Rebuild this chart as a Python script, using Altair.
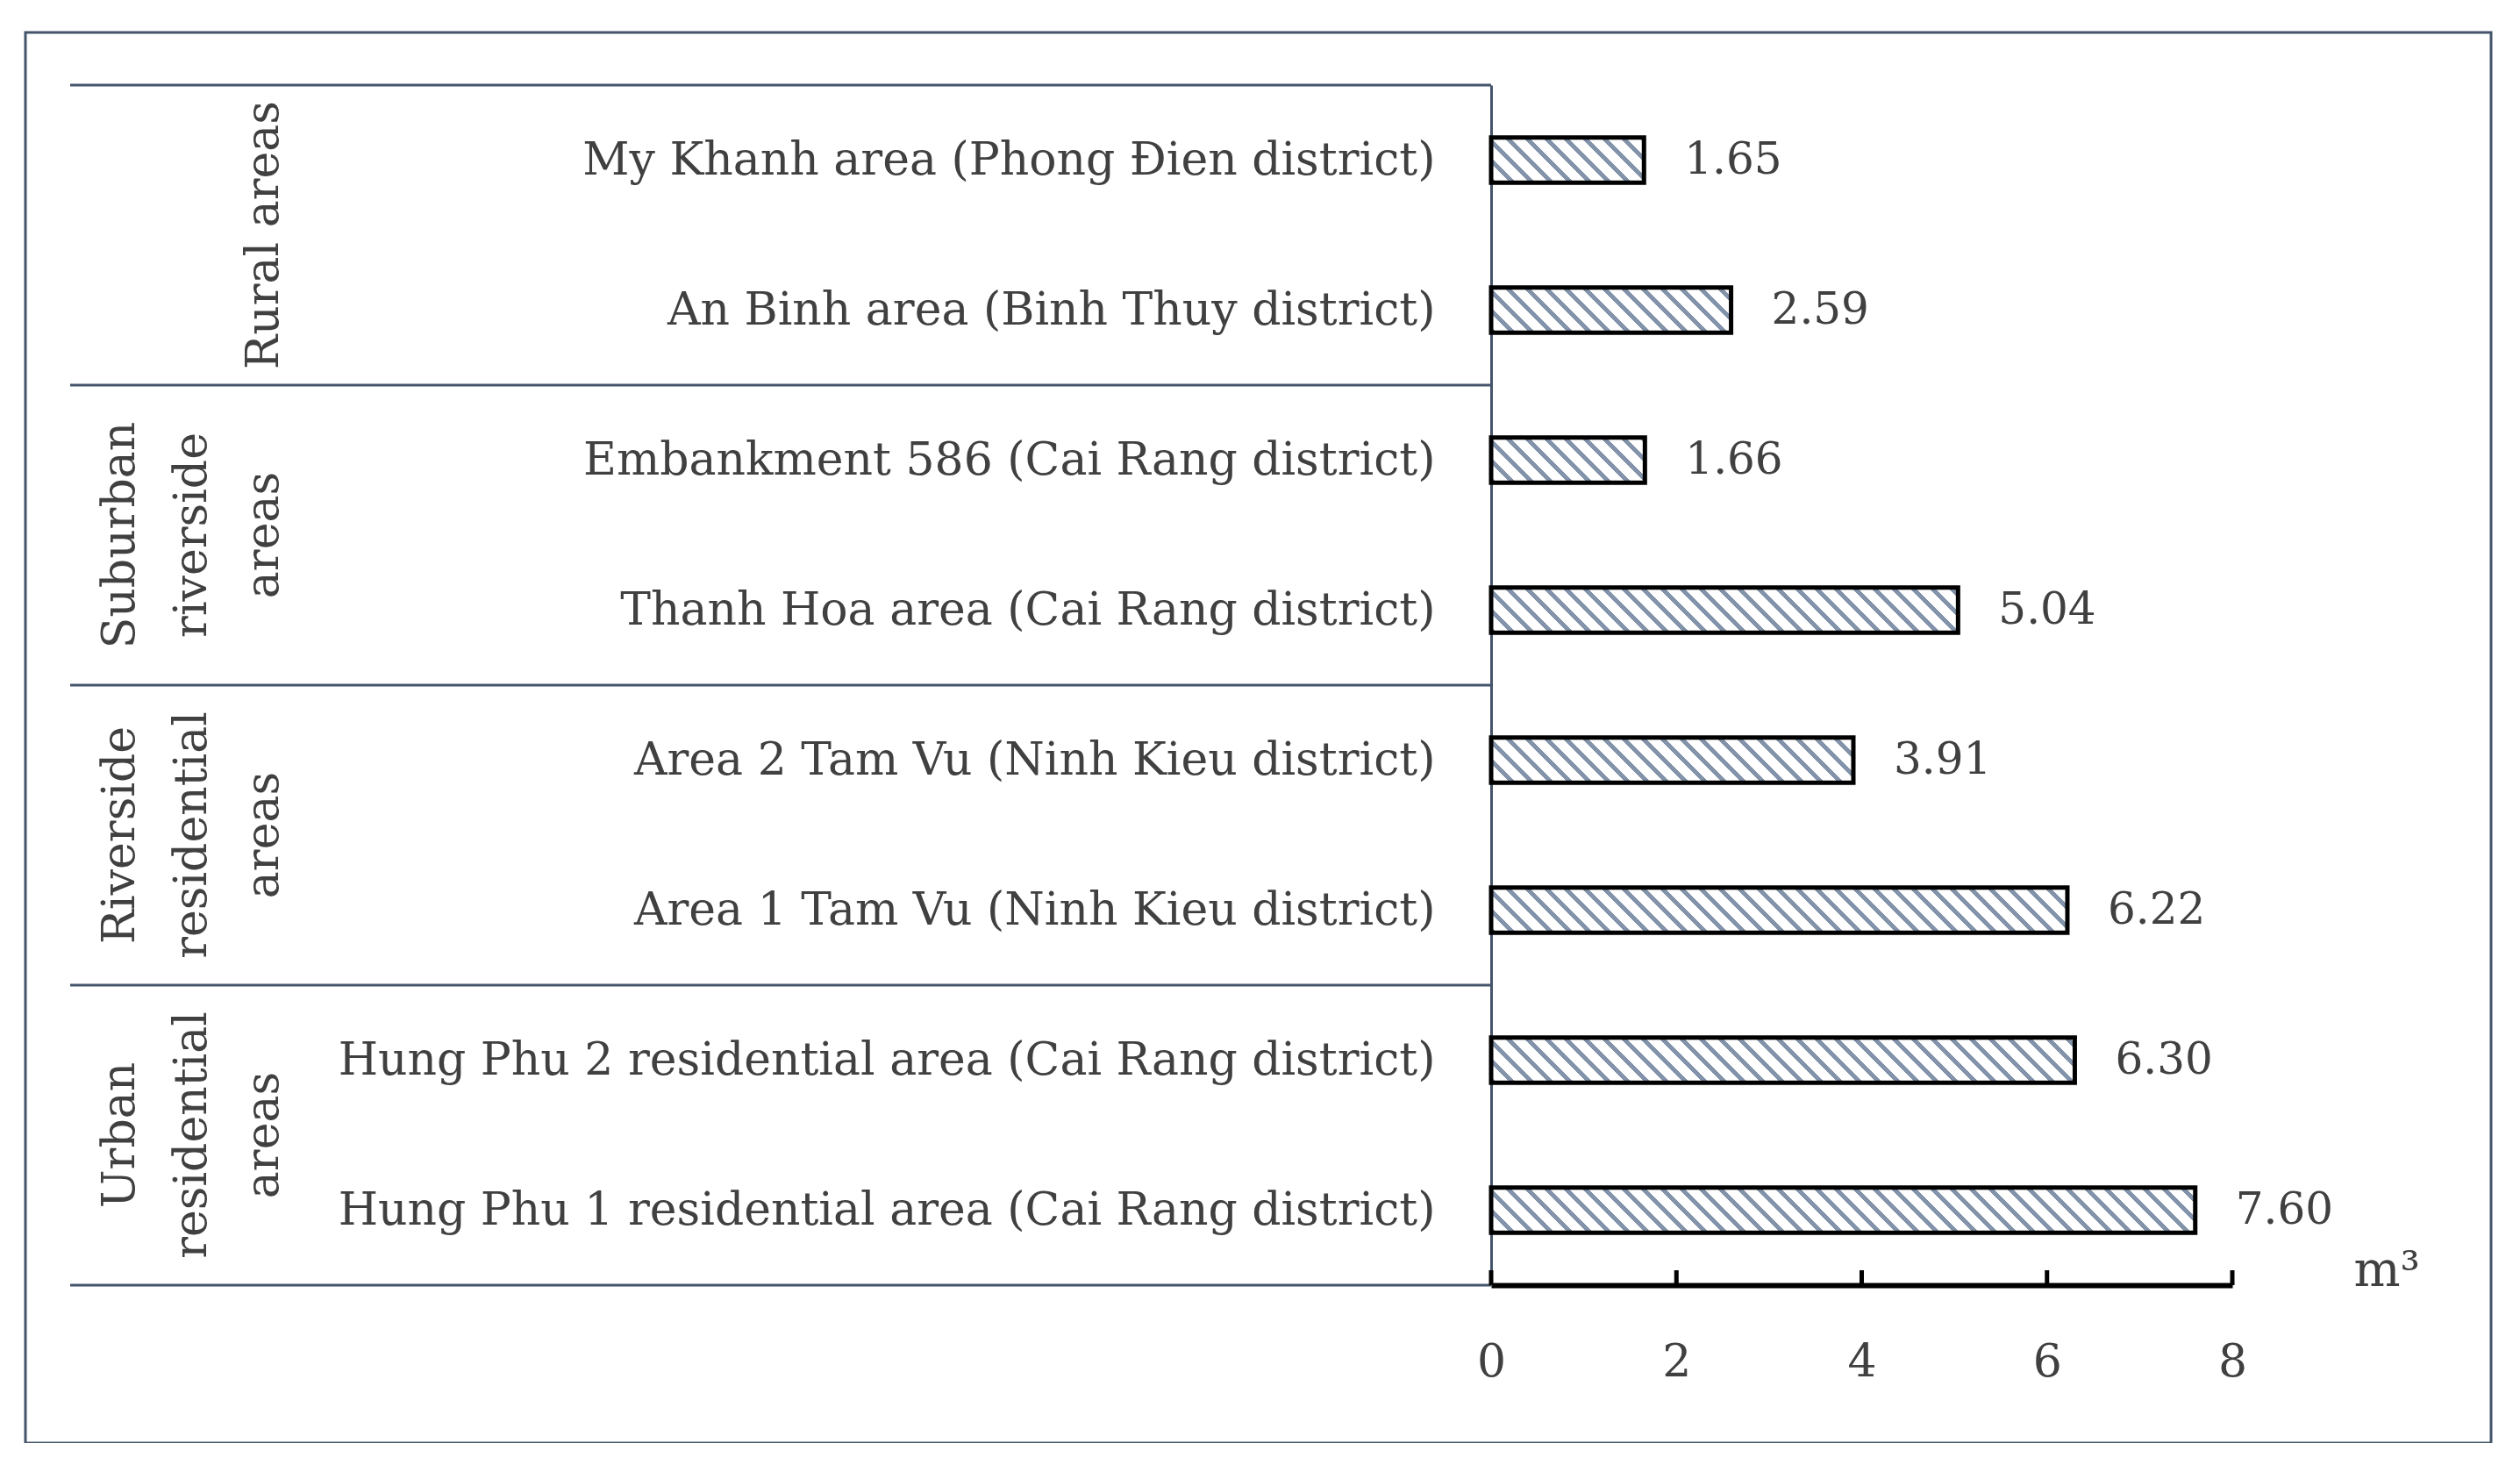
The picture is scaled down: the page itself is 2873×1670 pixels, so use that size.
import altair as alt

# ---------------- data ----------------
sites = [
    "My Khanh area (Phong Đien district)",
    "An Binh area (Binh Thuy district)",
    "Embankment 586 (Cai Rang district)",
    "Thanh Hoa area (Cai Rang district)",
    "Area 2 Tam Vu (Ninh Kieu district)",
    "Area 1 Tam Vu (Ninh Kieu district)",
    "Hung Phu 2 residential area (Cai Rang district)",
    "Hung Phu 1 residential area (Cai Rang district)",
]
volumes = [1.65, 2.59, 1.66, 5.04, 3.91, 6.22, 6.30, 7.60]
groups = ["Rural areas", "Suburban\nriverside\nareas",
          "Riverside\nresidential\nareas", "Urban\nresidential\nareas"]
group_sizes = [2, 2, 2, 2]
x_ticks = [0, 2, 4, 6, 8]
unit_label = "m³"

# ---------------- layout / style ----------------
W, H = 845, 1368
N_ROWS = len(sites)
STEP = H / N_ROWS
BAR_H = 0.3 * STEP
X_MAX = 8
FONT = "DejaVu Serif"
FS = 52
TXT = "#404040"
LINE = "#44546a"
STRIPE = "#8293aa"
PERIOD = 22.0   # horizontal hatch period in px
FRAC = 0.32
LINE_H = 82
GROUP_X = -1547


def hatch(value):
    w = value / X_MAX * W
    h = BAR_H
    r = h / w
    gx = (1 + r) / (1 + r * r)
    gy = -gx * r
    n = (w + h) / PERIOD
    stops = [{"offset": 0, "color": "white"}]
    k = 0
    while k / n < 1:
        a = k / n
        b = min((k + FRAC) / n, 1)
        stops += [{"offset": a, "color": "white"}, {"offset": a, "color": STRIPE},
                  {"offset": b, "color": STRIPE}, {"offset": b, "color": "white"}]
        k += 1
    stops.append({"offset": 1, "color": "white"})
    return {"gradient": "linear", "x1": 0, "y1": 1, "x2": gx, "y2": 1 + gy, "stops": stops}


bar_rows = [{"site": s, "volume": v, "grad": hatch(v)} for s, v in zip(sites, volumes)]
label_rows = [{"site": s, "volume": v} for s, v in zip(sites, volumes)]

bounds = [0]
for g in group_sizes:
    bounds.append(bounds[-1] + g)
group_rows = [{"group": g, "lines": g.count("\n") + 1, "mid": (bounds[i] + bounds[i + 1]) / 2}
              for i, g in enumerate(groups)]
bound_rows = [{"b": b} for b in bounds]
tick_rows = [{"t": t} for t in x_ticks]
max_lines = max(r["lines"] for r in group_rows)

y_band = alt.Scale(domain=sites, paddingInner=0.7, paddingOuter=0.35)
x_scale = alt.Scale(domain=[0, X_MAX], nice=False, zero=True)
y_rows = alt.Scale(domain=[0, N_ROWS], reverse=True, nice=False, zero=False)

x_axis = alt.Axis(values=x_ticks, title=unit_label, domainColor="black", domainWidth=6,
                  ticks=False, tickSize=0, grid=False, labelPadding=62, labelFlush=False,
                  labelFont=FONT, labelFontSize=FS, labelColor=TXT,
                  titleFont=FONT, titleFontSize=56, titleColor=TXT, titleFontWeight="normal",
                  titleX=983, titleY=0, titleAlign="left", titleBaseline="alphabetic",
                  titleAnchor="start")

bars = alt.Chart(alt.Data(values=bar_rows)).mark_bar(stroke="black", strokeWidth=5).encode(
    x=alt.X("volume:Q", scale=x_scale, axis=x_axis),
    y=alt.Y("site:N", scale=y_band, sort=sites,
            axis=alt.Axis(title=None, domainColor=LINE, domainWidth=3, ticks=False, tickSize=0,
                          labelPadding=64, labelLimit=3000, labelFont=FONT, labelFontSize=FS,
                          labelColor=TXT)),
    fill=alt.Fill("grad:N", scale=None, legend=None),
)

values_txt = alt.Chart(alt.Data(values=label_rows)).mark_text(
    align="left", baseline="middle", dx=46, font=FONT, fontSize=50, color=TXT
).encode(
    x=alt.X("volume:Q", scale=x_scale, axis=x_axis),
    y=alt.Y("site:N", scale=y_band, sort=sites, axis=None),
    text=alt.Text("volume:Q", format=".2f"),
)

ticks = alt.Chart(alt.Data(values=tick_rows)).mark_rule(color="black", strokeWidth=5).encode(
    x=alt.X("t:Q", scale=x_scale, axis=x_axis),
    y=alt.value(H - 17),
    y2=alt.value(H),
)

table_lines = alt.Chart(alt.Data(values=bound_rows)).mark_rule(color=LINE, strokeWidth=3).encode(
    y=alt.Y("b:Q", scale=y_rows, axis=None),
    x=alt.value(-1620),
    x2=alt.value(0),
)


def group_layer(n):
    # labels whose last line shares the same column: shift by the missing lines
    return alt.Chart(alt.Data(values=group_rows)).transform_filter(
        alt.datum.lines == n
    ).mark_text(
        angle=270, align="center", baseline="alphabetic", lineBreak="\n", lineHeight=LINE_H,
        font=FONT, fontSize=FS, color=TXT
    ).encode(
        y=alt.Y("mid:Q", scale=y_rows, axis=None),
        x=alt.value(GROUP_X + (max_lines - n) * LINE_H),
        text="group:N",
    )


group_layers = [group_layer(n) for n in sorted({r["lines"] for r in group_rows})]

frame = alt.Chart(alt.Data(values=[{}])).mark_rect(filled=False, stroke=LINE, strokeWidth=3).encode(
    x=alt.value(-1671), x2=alt.value(1140), y=alt.value(-60), y2=alt.value(1548)
)

chart = alt.layer(frame, table_lines, *group_layers, bars, values_txt, ticks).resolve_scale(
    y="independent"
).properties(
    width=W, height=H,
    padding={"left": 1692, "top": 89, "right": 300, "bottom": 180},
    autosize=alt.AutoSizeParams(type="none"),
).configure_view(stroke="transparent", strokeWidth=0).configure(
    background="white", style={"cell": {"stroke": "transparent"}}
)

chart.save("out.html", embed_options={"renderer": "svg", "actions": False})
